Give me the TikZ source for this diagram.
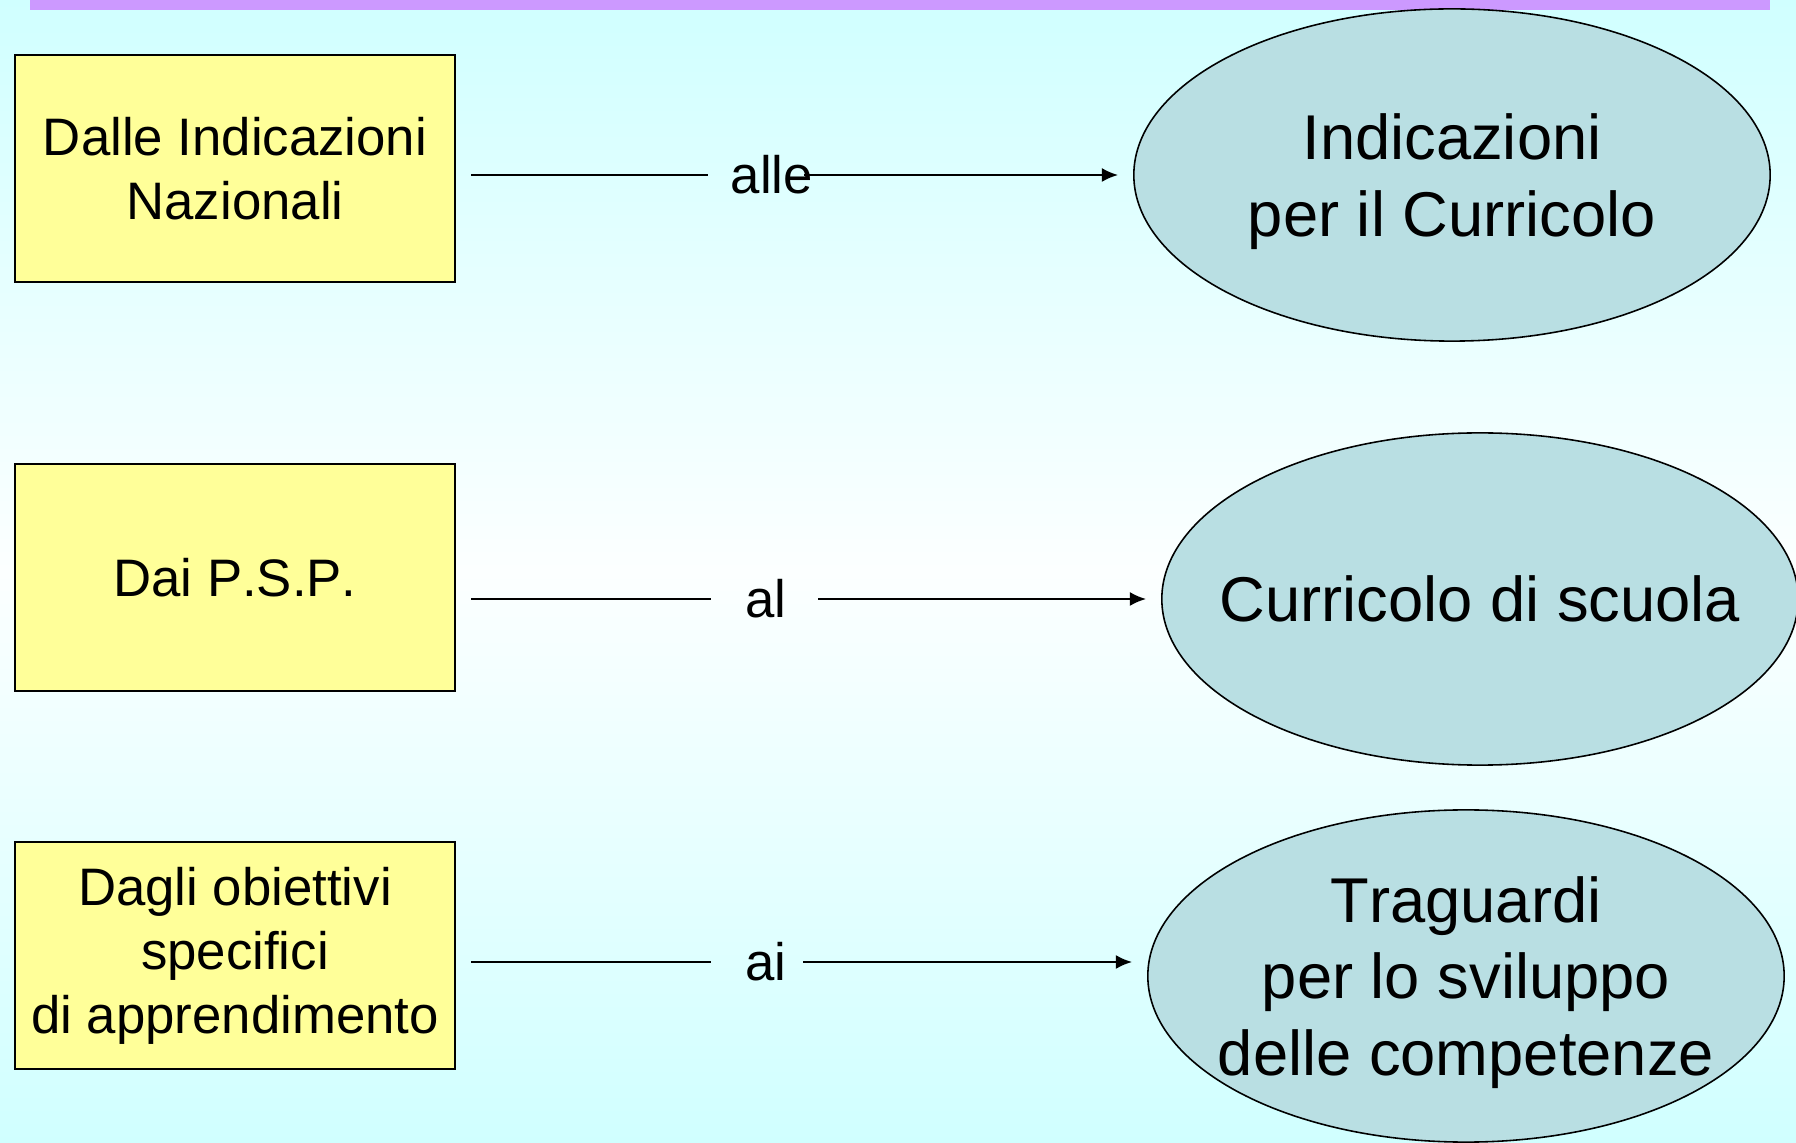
\documentclass[tikz,border=0pt]{standalone}
\usepackage{fontspec}
\setmainfont{Liberation Sans}[Kerning=Off]
\usetikzlibrary{shapes.geometric,arrows.meta}
\definecolor{bgcyan}{RGB}{208,255,255}
\definecolor{bgwhite}{RGB}{252,255,255}
\definecolor{barlilac}{RGB}{204,153,255}
\definecolor{boxyellow}{RGB}{255,255,153}
\definecolor{ovalblue}{RGB}{185,223,227}
\begin{document}
\begin{tikzpicture}[x=0.01cm,y=-0.01cm,
        bx/.style={draw,line width=0.6pt,fill=boxyellow,minimum width=4.4cm,minimum height=2.27cm,inner sep=0pt,align=center,font=\fontsize{15}{18.2}\selectfont},
        ov/.style={ellipse,draw,line width=0.45pt,fill=ovalblue,minimum width=6.36cm,minimum height=3.32cm,inner xsep=-1cm,inner ysep=0pt,text depth=0pt,align=center,font=\fontsize{18}{21.8}\selectfont},
        lk/.style={inner sep=0pt,font=\fontsize{15}{18}\selectfont},
        ln/.style={line width=0.6pt}]
        \useasboundingbox (0,0) rectangle (1796,1143);
        \shade[top color=bgcyan,bottom color=bgcyan,middle color=bgwhite] (0,0) rectangle (1796,1143);
        \fill[barlilac] (30,0) rectangle (1770,10);
        \foreach[count=\i] \by/\ly/\lx/\ex/\ey/\gl/\gr/\a/\b/\c in {
            168.5/175/772/1452/175/22/-10/{Dalle Indicazioni\\Nazionali}/alle/{Indicazioni\\per il Curricolo},
            577.5/599/766/1480/599/34/31/{Dai P.S.P.}/al/{Curricolo di scuola},
            955.5/962/766/1466/976/34/16/{Dagli obiettivi\\specifici\\di apprendimento}/ai/{Traguardi\\per lo sviluppo\\delle competenze}} {
            \node[bx] (box\i) at (235,\by) {\a};
            \node[ov] (ov\i) at (\ex,\ey) {\c};
            \node[lk] (lab\i) at (\lx,\ly) {\b};
            \draw[ln,shorten <=0.15cm,shorten >=\gl*0.01cm] (box\i.east |- lab\i) -- (lab\i.west);
            \draw[ln,-{Latex[length=4.6pt,width=4pt]},shorten <=\gr*0.01cm,shorten >=0.15cm] (lab\i.east) -- (lab\i -| ov\i.west);
        }
\end{tikzpicture}
\end{document}
